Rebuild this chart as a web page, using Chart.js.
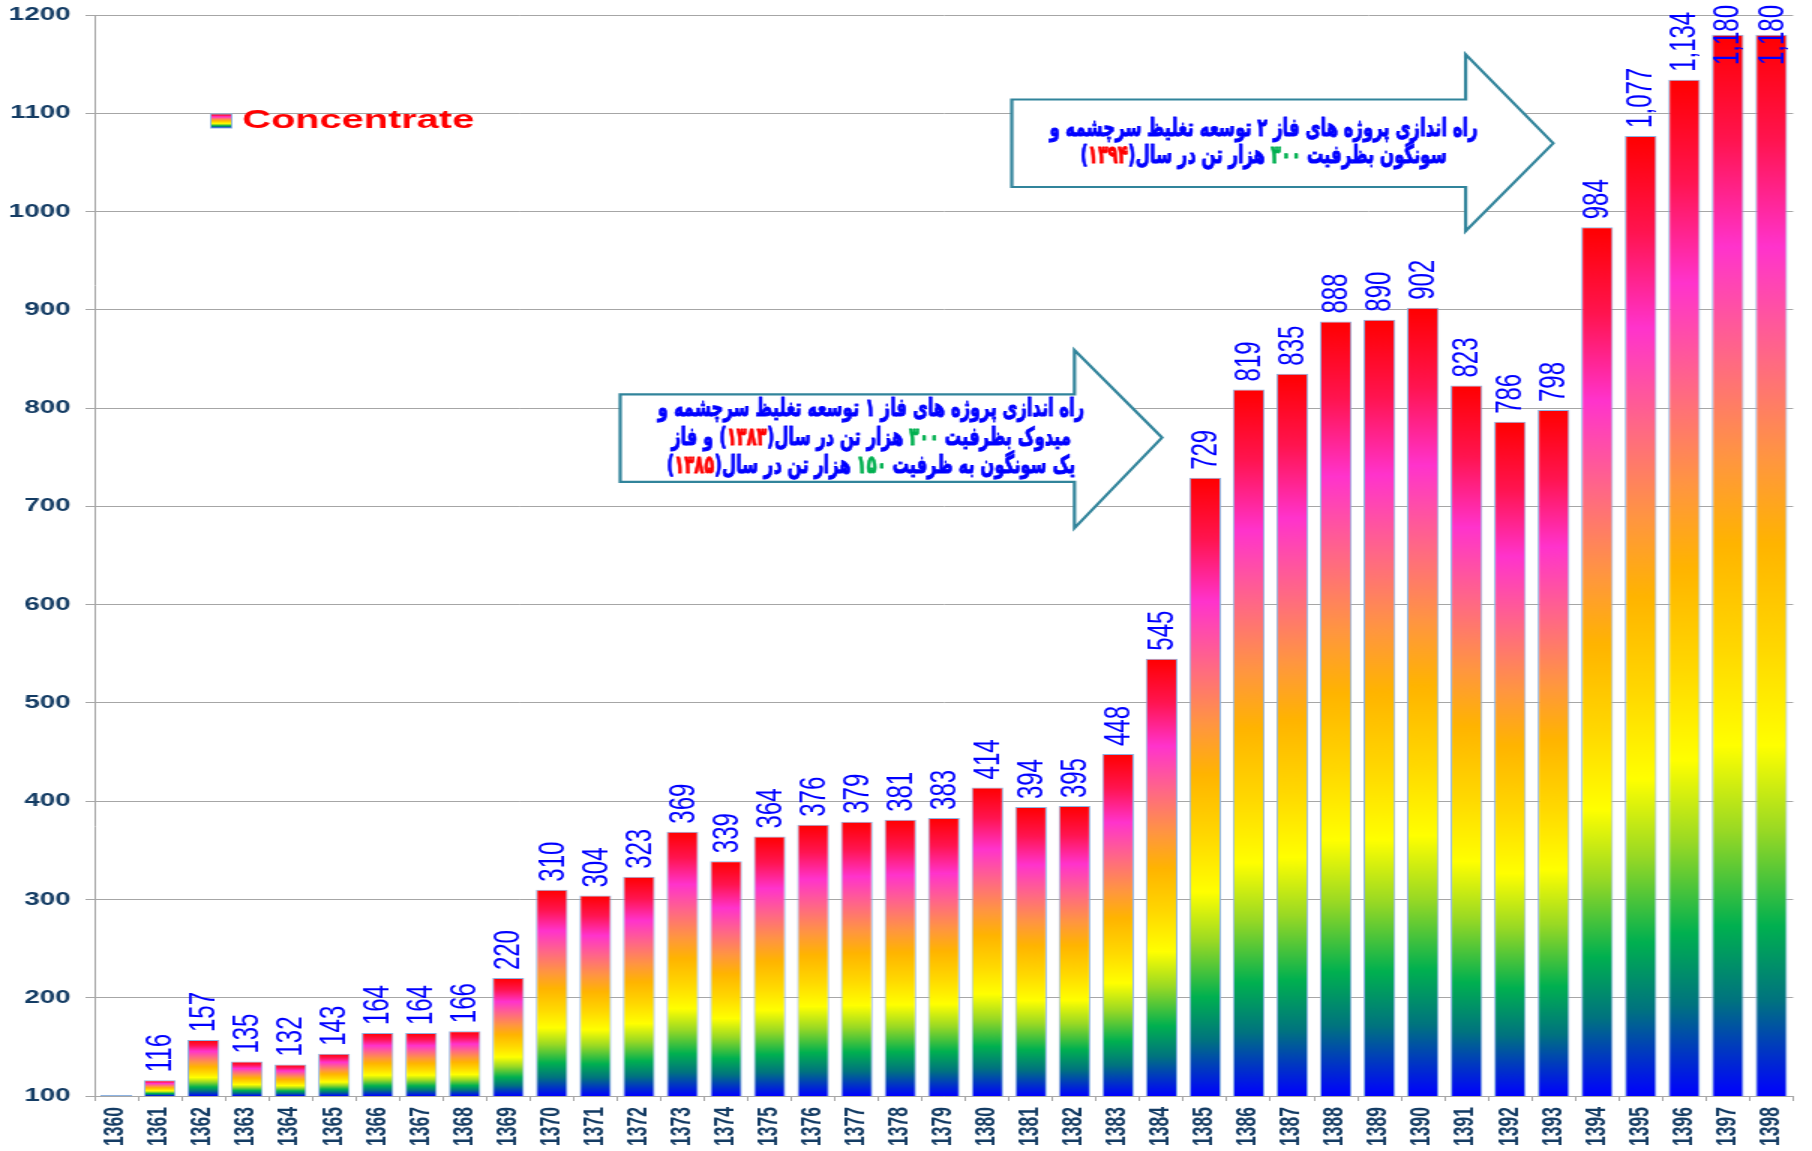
<!DOCTYPE html>
<html>
<head>
<meta charset="utf-8">
<script src="https://cdn.jsdelivr.net/npm/chart.js@4.4.1/dist/chart.umd.min.js"></script>
<style>
  html, body { margin: 0; padding: 0; background: #fff; }
</style>
</head>
<body>
<!-- drawn at 1208 wide, shown at 1812: the source picture is stretched sideways -->
<canvas id="myChart" width="1208" height="1151" style="display:block;width:1812px;height:1151px"></canvas>
<script>
// Concentrate output by year (thousand tonnes)
const years = ['1360', '1361', '1362', '1363', '1364', '1365', '1366', '1367', '1368', '1369',
  '1370', '1371', '1372', '1373', '1374', '1375', '1376', '1377', '1378', '1379',
  '1380', '1381', '1382', '1383', '1384', '1385', '1386', '1387', '1388', '1389',
  '1390', '1391', '1392', '1393', '1394', '1395', '1396', '1397', '1398'];
const concentrate = [101, 116, 157, 135, 132, 143, 164, 164, 166, 220,
  310, 304, 323, 369, 339, 364, 376, 379, 381, 383,
  414, 394, 395, 448, 545, 729, 819, 835, 888, 890,
  902, 823, 786, 798, 984, 1077, 1134, 1180, 1180];
const yTicks = [100, 200, 300, 400, 500, 600, 700, 800, 900, 1000, 1100, 1200];

const BLUE = '#0000ff', GREEN = '#00b050', RED = '#ff0000';
const navy = '#143c64';
const gridGrey = '#a6a6a6';

// excel "rainbow" preset, top of bar to bottom
const rainbow = [
  [0, '#ff0000'], [0.1, '#ff1450'], [0.2, '#ff33cc'], [0.3, '#ff6688'],
  [0.4, '#ff9640'], [0.48, '#ffb400'], [0.58, '#ffd800'], [0.67, '#ffff00'],
  [0.75, '#99d924'], [0.84, '#00b050'], [0.91, '#00737f'], [1, '#0000ff']
];

// the two arrow call-outs, in axis units (x = category index, y = value)
const notes = [
  {
    left: 11.57, neck: 22.0, tip: 24.01,
    top: 814, bottom: 725, headTop: 859, headBottom: 678, tipY: 770,
    textX: 17.33, textW: 9.79, lineStep: 29,
    lines: [
      [['راه اندازی پروژه های فاز ۱ توسعه تغلیظ سرچشمه و', BLUE]],
      [['میدوک بظرفیت ', BLUE], ['۳۰۰', GREEN], [' هزار تن در سال(', BLUE], ['۱۳۸۳', RED], [') و فاز', BLUE]],
      [['یک سونگون به ظرفیت ', BLUE], ['۱۵۰', GREEN], [' هزار تن در سال(', BLUE], ['۱۳۸۵', RED], [')', BLUE]]
    ]
  },
  {
    left: 20.56, neck: 30.98, tip: 32.99,
    top: 1114, bottom: 1025, headTop: 1160, headBottom: 980, tipY: 1069.5,
    textX: 26.34, textW: 9.83, lineStep: 27.5,
    lines: [
      [['راه اندازی پروژه های فاز ۲ توسعه تغلیظ سرچشمه و', BLUE]],
      [['سونگون بظرفیت ', BLUE], ['۳۰۰', GREEN], [' هزار تن در سال(', BLUE], ['۱۳۹۴', RED], [')', BLUE]]
    ]
  }
];

function rainbowFill(ctx, top, bottom) {
  const g = ctx.createLinearGradient(0, top, 0, bottom);
  rainbow.forEach(([o, c]) => g.addColorStop(o, c));
  return g;
}

// arrows with persian text
const callouts = {
  id: 'callouts',
  afterDatasetsDraw(chart) {
    const {ctx, scales: {x, y}} = chart;
    ctx.save();
    notes.forEach(n => {
      const X = v => x.getPixelForValue(v), Y = v => y.getPixelForValue(v);
      ctx.beginPath();
      ctx.moveTo(X(n.left), Y(n.top));
      ctx.lineTo(X(n.neck), Y(n.top));
      ctx.lineTo(X(n.neck), Y(n.headTop));
      ctx.lineTo(X(n.tip), Y(n.tipY));
      ctx.lineTo(X(n.neck), Y(n.headBottom));
      ctx.lineTo(X(n.neck), Y(n.bottom));
      ctx.lineTo(X(n.left), Y(n.bottom));
      ctx.closePath();
      ctx.fillStyle = '#fff';
      ctx.fill();
      ctx.lineWidth = 2.2;
      ctx.strokeStyle = '#31849b';
      ctx.lineJoin = 'miter';
      ctx.stroke();

      // text is tall and heavy in the source: squeeze it sideways to fit
      ctx.direction = 'rtl';
      ctx.textBaseline = 'middle';
      ctx.textAlign = 'right';
      ctx.font = 'bold 25px "DejaVu Sans"';
      ctx.lineWidth = 1.1;
      ctx.lineJoin = 'round';
      const widths = n.lines.map(l => l.reduce((s, seg) => s + ctx.measureText(seg[0]).width, 0));
      const target = n.textW * (X(1) - X(0));
      const sx = target / Math.max(...widths);

      const midY = (Y(n.top) + Y(n.bottom)) / 2;
      const step = Y(0) - Y(n.lineStep);
      n.lines.forEach((line, li) => {
        const w = widths[li];
        const py = midY + (li - (n.lines.length - 1) / 2) * step;
        ctx.save();
        ctx.translate(X(n.textX), py);
        ctx.scale(sx, 1);
        let px = w / 2;
        line.forEach(([t, c]) => {
          ctx.fillStyle = c;
          ctx.strokeStyle = c;
          ctx.fillText(t, px, 0);
          ctx.strokeText(t, px, 0);
          px -= ctx.measureText(t).width;
        });
        ctx.restore();
      });
    });
    ctx.restore();
  }
};

// rotated value labels above bars
const barLabels = {
  id: 'barLabels',
  afterDatasetsDraw(chart) {
    const {ctx} = chart;
    const meta = chart.getDatasetMeta(0);
    ctx.save();
    ctx.font = '24px "Liberation Sans"';
    ctx.fillStyle = BLUE;
    ctx.textAlign = 'left';
    ctx.textBaseline = 'middle';
    meta.data.forEach((bar, i) => {
      if (i === 0) return; // 1360 sits on the axis floor, no label in the source
      const txt = concentrate[i].toLocaleString('en-US');
      const w = ctx.measureText(txt).width;
      const start = Math.max(bar.y - 8, 5 + w);
      ctx.save();
      ctx.translate(bar.x, start);
      ctx.rotate(-Math.PI / 2);
      ctx.fillText(txt, 0, 1);
      ctx.restore();
    });
    ctx.restore();
  }
};

// legend sitting inside the plot
const innerLegend = {
  id: 'innerLegend',
  afterDraw(chart) {
    const {ctx, chartArea: a} = chart;
    const bx = a.left + 77.5, by = 114;
    ctx.save();
    ctx.fillStyle = rainbowFill(ctx, by, by + 14);
    ctx.fillRect(bx, by, 14, 14);
    ctx.strokeStyle = '#8db3e2';
    ctx.lineWidth = 1;
    ctx.strokeRect(bx, by, 14, 14);
    ctx.font = 'bold 26.5px "Liberation Sans"';
    ctx.fillStyle = RED;
    ctx.textBaseline = 'middle';
    ctx.fillText(chart.data.datasets[0].label, bx + 21, by + 7);
    ctx.restore();
  }
};

const ctx = document.getElementById('myChart');

new Chart(ctx, {
  type: 'bar',
  data: {
    labels: years,
    datasets: [{
      label: 'Concentrate',
      data: concentrate,
      backgroundColor: (c) => {
        const chart = c.chart;
        if (!chart.chartArea || c.type !== 'data') return RED;
        const y = chart.scales.y;
        return rainbowFill(chart.ctx, y.getPixelForValue(c.raw), y.getPixelForValue(y.min));
      },
      borderColor: '#8db3e2',
      borderWidth: 1,
      borderSkipped: false,
      barPercentage: 0.73,
      categoryPercentage: 1
    }]
  },
  options: {
    responsive: false,
    animation: false,
    devicePixelRatio: 1,
    layout: { padding: { top: 15, right: 7, left: 0, bottom: 0 } },
    plugins: { legend: { display: false }, tooltip: { enabled: false } },
    scales: {
      x: {
        offset: true,
        grid: { offset: true, drawOnChartArea: false, tickLength: 5, color: gridGrey },
        border: { color: gridGrey },
        ticks: {
          autoSkip: false, minRotation: 90, maxRotation: 90, padding: 6,
          color: navy,
          font: { family: 'Liberation Sans', weight: 'bold', size: 17.5 }
        },
        afterFit: (s) => { s.height = 55; }
      },
      y: {
        min: 100,
        max: 1200,
        afterBuildTicks: (s) => { s.ticks = yTicks.map(v => ({ value: v })); },
        grid: { color: gridGrey, tickLength: 6 },
        border: { color: gridGrey },
        ticks: {
          padding: 10,
          color: navy,
          font: { family: 'Liberation Sans', weight: 'bold', size: 18.5 },
          callback: (v) => String(v)
        },
        // keep the label gap from pushing the plot top down
        afterFit: (s) => { s.width = 63; s.paddingTop = 8; s.paddingBottom = 8; }
      }
    }
  },
  plugins: [callouts, barLabels, innerLegend]
});
</script>
</body>
</html>
